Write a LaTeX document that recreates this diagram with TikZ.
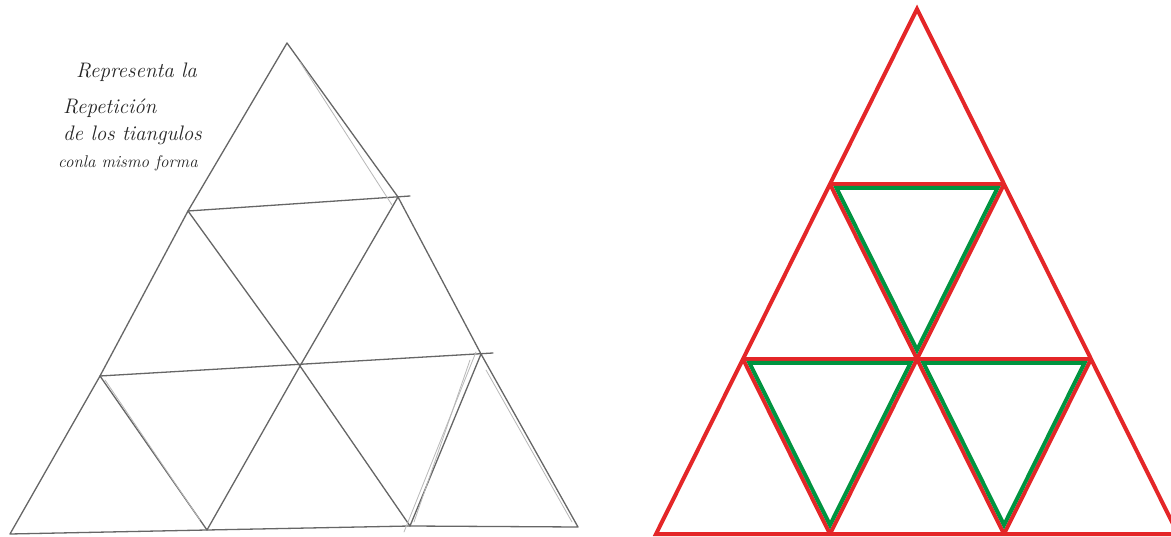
\documentclass[tikz,border=0pt]{standalone}
\usetikzlibrary{calc}
\definecolor{figred}{RGB}{228,38,40}
\definecolor{figgreen}{RGB}{0,148,64}
\begin{document}
\begin{tikzpicture}[x=1pt, y=-1pt,
		pencil/.style={draw=black!60, line width=1.3pt, line cap=round, line join=round},
		faint/.style={draw=black!28, line width=0.8pt, line cap=round},
		redline/.style={draw=figred, line width=4pt},
		greenline/.style={draw=figgreen, line width=4pt},
		note/.style={anchor=base west, inner sep=0pt, text=black!85, font=\fontsize{21}{23}\selectfont\itshape}]
	\useasboundingbox[fill=white] (0,0) rectangle (1171,537);
	% pencil sketch
	\coordinate (s0) at (287,43);
	\coordinate (s1) at (188,211);
	\coordinate (s2) at (398,197);
	\coordinate (s3) at (100,376);
	\coordinate (s4) at (300,366);
	\coordinate (s5) at (481,354);
	\coordinate (s6) at (10,534);
	\coordinate (s7) at (207,530);
	\coordinate (s8) at (410,526);
	\coordinate (s9) at (578,527);
	\draw[pencil] (s0) -- (s1) -- (s3) -- (s6) -- (s7) -- (s8) -- (s9) -- (s5) -- (s2) -- cycle;
	\draw[pencil] (s1) -- ($(s2)+(12,-1)$);
	\draw[pencil] (s3) -- ($(s5)+(12,-1)$);
	\draw[pencil] (s1) -- (s4) -- (s8);
	\draw[pencil] (s2) -- (s4) -- (s7);
	\draw[pencil] (s3) -- (s7);
	\draw[pencil] (s5) -- (s8);
	\draw[faint] (470,360) -- (414,522);
	\draw[faint] (476,352) -- (404,532);
	\draw[faint] (300,62) -- (392,205);
	\draw[faint] (486,370) -- (572,522);
	\draw[faint] (105,380) -- (200,520);
	\node[note] (t1) at (76,78) {Representa la};
	\node[note] (t2) at (63,114) {Repetición};
	\node[note] (t3) at (63,141) {de los tiangulos};
	\node[note, font=\fontsize{17}{19}\selectfont\itshape] (t4) at (58,168) {conla mismo forma};
	% clean figure
	\coordinate (a) at (917,9);
	\coordinate (b1) at (830,184);
	\coordinate (b2) at (1004,184);
	\coordinate (c1) at (743,359);
	\coordinate (c2) at (917,359);
	\coordinate (c3) at (1091,359);
	\coordinate (d1) at (656,534);
	\coordinate (d2) at (830,534);
	\coordinate (d3) at (1004,534);
	\coordinate (d4) at (1178,534);
	\draw[redline] (a) -- (d1) -- (d4) -- cycle;
	\draw[redline] (b1) -- (b2);
	\draw[redline] (c1) -- (c3);
	\draw[redline] (b1) -- (d3);
	\draw[redline] (b2) -- (d2);
	\draw[redline] (c1) -- (d2);
	\draw[redline] (c3) -- (d3);
	\draw[greenline] ($(b1)+(6.5,4)$) -- ($(b2)+(-6.5,4)$) -- ($(c2)+(0,-9)$) -- cycle;
	\draw[greenline] ($(c1)+(6.5,4)$) -- ($(c2)+(-6.5,4)$) -- ($(d2)+(0,-9)$) -- cycle;
	\draw[greenline] ($(c2)+(6.5,4)$) -- ($(c3)+(-6.5,4)$) -- ($(d3)+(0,-9)$) -- cycle;
\end{tikzpicture}
\end{document}
